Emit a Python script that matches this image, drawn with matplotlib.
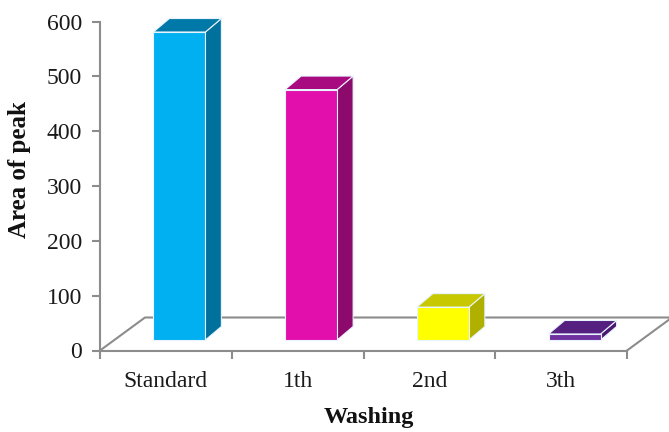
import matplotlib.pyplot as plt
from matplotlib.patches import Polygon

categories = ['Standard', '1th', '2nd', '3th']
values = [562, 457, 60, 11]
front_colors = ['#00b0f0', '#e20fac', '#ffff00', '#7030a0']
top_colors = ['#0079a8', '#a80a80', '#c8c800', '#552080']
side_colors = ['#00709c', '#8c0a6c', '#b0b000', '#4a1a70']

plt.rcParams['font.family'] = ['Liberation Serif']

fig = plt.figure(figsize=(6.69, 4.32), dpi=100)
W, H = 669, 432
x0, y0, x1, y1 = 100, 350.5, 669, 21.7
ax = fig.add_axes([x0 / W, (H - y0) / H, (x1 - x0) / W, (y0 - y1) / H])

pxc = 131.75           # pixels per category
pxv = (y0 - y1) / 600  # pixels per unit
ax.set_xlim(-0.5, -0.5 + (x1 - x0) / pxc)
ax.set_ylim(0, 600)

grey = '#8c8c8c'
# floor
fdx, fdy = 45 / pxc, 33 / pxv
xb0, xb1 = -0.5, len(categories) - 0.5
ax.plot([xb0, xb0 + fdx, xb1 + fdx, xb1], [0, fdy, fdy, 0], color=grey, lw=1.5,
        clip_on=False, zorder=1, solid_joinstyle='miter')

# bars
shift = 13.5 / pxc
bw = 52 / pxc
base = 10.5 / pxv
ddx, ddy = 16 / pxc, 13.5 / pxv
for i, v in enumerate(values):
    l = i + shift - bw / 2
    r = l + bw
    b = base
    t = base + v
    front = [(l, b), (r, b), (r, t), (l, t)]
    side = [(r, b), (r + ddx, b + ddy), (r + ddx, t + ddy), (r, t)]
    top = [(l, t), (r, t), (r + ddx, t + ddy), (l + ddx, t + ddy)]
    for pts, c in [(side, side_colors[i]), (top, top_colors[i]), (front, front_colors[i])]:
        ax.add_patch(Polygon(pts, closed=True, facecolor=c, edgecolor='#e8f4ff',
                             lw=0.8, zorder=3, clip_on=False))

for s in ['top', 'right']:
    ax.spines[s].set_visible(False)
ax.spines['left'].set_color(grey)
ax.spines['left'].set_linewidth(1.5)
ax.spines['bottom'].set_color(grey)
ax.spines['bottom'].set_linewidth(1.5)
ax.spines['bottom'].set_bounds(xb0, xb1)

ax.set_yticks(range(0, 601, 100))
ax.tick_params(axis='y', length=6, width=1.5, color=grey, labelsize=17, pad=7,
               labelcolor='#1a1a1a')
ax.set_xticks([i - 0.5 for i in range(len(categories) + 1)])
ax.set_xticklabels([])
ax.tick_params(axis='x', length=6, width=1.5, color=grey)
ax.set_xticks(range(len(categories)), minor=True)
ax.set_xticklabels(categories, minor=True)
ax.tick_params(axis='x', which='minor', length=0, labelsize=17, pad=15,
               labelcolor='#1a1a1a')

fig.text(369 / W, 1 - 418 / H, 'Washing', ha='center', va='center',
         fontsize=17.5, fontweight='bold', color='#111111')
fig.text(20 / W, 1 - 170 / H, 'Area of peak', ha='center', va='center',
         rotation=90, fontsize=18, fontweight='bold', color='#111111')

fig.savefig('out.png', dpi=100)
